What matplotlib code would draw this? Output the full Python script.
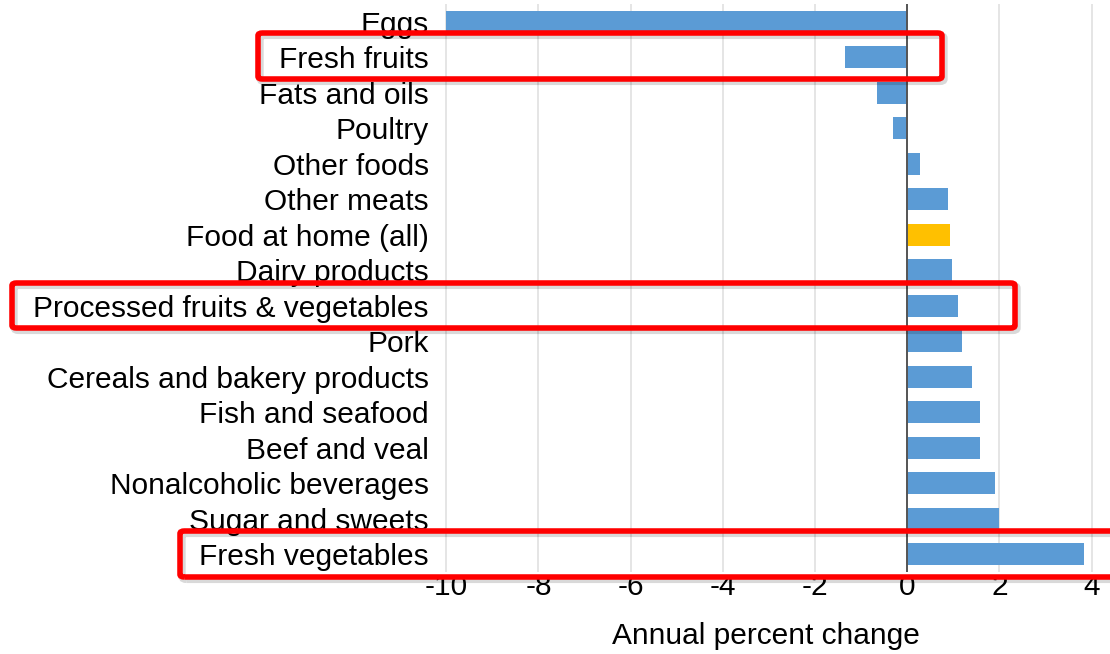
import matplotlib
matplotlib.use("Agg")
import matplotlib.pyplot as plt
from matplotlib.patches import FancyBboxPatch

categories = ["Eggs", "Fresh fruits", "Fats and oils", "Poultry", "Other foods",
              "Other meats", "Food at home (all)", "Dairy products",
              "Processed fruits & vegetables", "Pork", "Cereals and bakery products",
              "Fish and seafood", "Beef and veal", "Nonalcoholic beverages",
              "Sugar and sweets", "Fresh vegetables"]
values = [-10.0, -1.35, -0.65, -0.3, 0.27, 0.88, 0.92, 0.98, 1.1, 1.18, 1.4,
          1.58, 1.58, 1.9, 2.0, 3.83]
highlight = "Food at home (all)"
boxed = ["Fresh fruits", "Processed fruits & vegetables", "Fresh vegetables"]
xticks = [-10, -8, -6, -4, -2, 0, 2, 4]

plt.rcParams['font.family'] = ['Liberation Sans', 'DejaVu Sans']
FS = 21.5

fig = plt.figure(figsize=(11.1, 6.54), dpi=100)
ax = fig.add_axes([0.4, 0.1255, 0.6, 0.868])

colors = ["#FFC000" if c == highlight else "#5B9BD5" for c in categories]
y = list(range(len(categories)))
ax.barh(y, values, height=0.62, color=colors, zorder=3)
ax.set_ylim(len(categories) - 0.5, -0.5)
ax.set_xlim(-10.05, 4.4)
ax.set_yticks(y)
ax.set_yticklabels(categories, fontsize=FS)
ax.set_xticks(xticks)
ax.set_xticklabels([str(t) for t in xticks], fontsize=FS)
ax.tick_params(axis='both', length=0)
ax.tick_params(axis='y', pad=11)
ax.tick_params(axis='x', pad=1)
for s in ax.spines.values():
    s.set_visible(False)
ax.grid(axis='x', color='#e0e0e0', linewidth=1.2, zorder=0)
ax.axvline(0, color='#555555', linewidth=1.4, zorder=4)
ax.set_xlabel("Annual percent change", fontsize=FS)
ax.xaxis.set_label_coords(0.484, -0.089)

# red annotation boxes, in figure pixel coordinates
W, H = 1110, 654
boxes = {"Fresh fruits": (258, 33, 942, 79),
         "Processed fruits & vegetables": (12, 283, 1015, 328),
         "Fresh vegetables": (180, 531, 1125, 577)}
for name in boxed:
    x0, y0, x1, y1 = boxes[name]
    shadow = FancyBboxPatch((x0 / W + 0.002, 1 - y1 / H - 0.004), (x1 - x0) / W, (y1 - y0) / H,
                            boxstyle="round,pad=0,rounding_size=0.004",
                            transform=fig.transFigure, fill=False,
                            edgecolor=(0, 0, 0, 0.15), linewidth=5, zorder=9)
    fig.add_artist(shadow)
    p = FancyBboxPatch((x0 / W, 1 - y1 / H), (x1 - x0) / W, (y1 - y0) / H,
                       boxstyle="round,pad=0,rounding_size=0.004",
                       transform=fig.transFigure, fill=False,
                       edgecolor='#FF0000', linewidth=4, zorder=10)
    fig.add_artist(p)

fig.savefig("out.png", dpi=100)
